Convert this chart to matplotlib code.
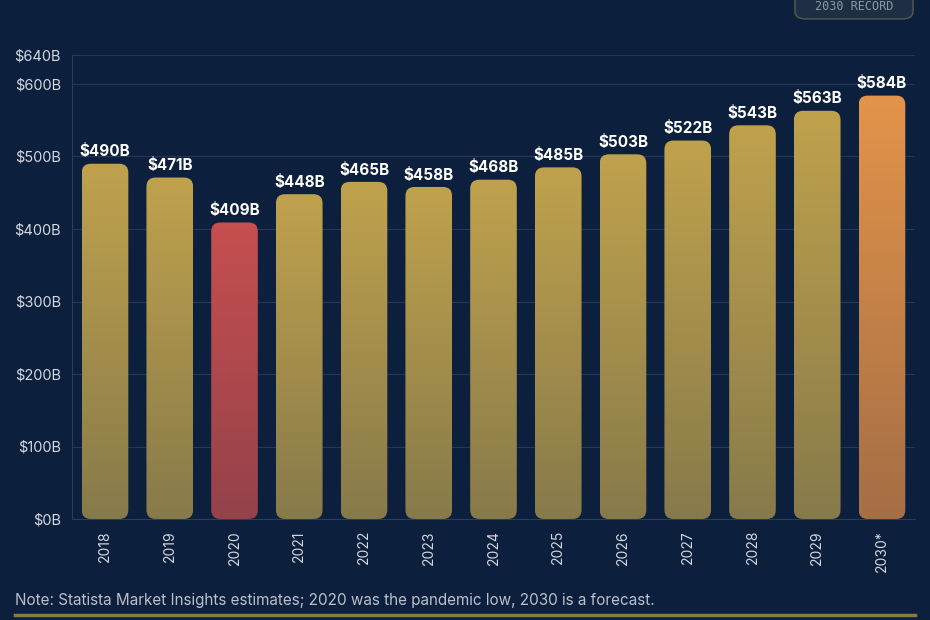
import matplotlib
matplotlib.use("Agg")
import matplotlib.pyplot as plt
import numpy as np
from matplotlib.patches import FancyBboxPatch
from matplotlib.colors import LinearSegmentedColormap

# data
years = ["2018", "2019", "2020", "2021", "2022", "2023", "2024",
         "2025", "2026", "2027", "2028", "2029", "2030*"]
values = [490, 471, 409, 448, 465, 458, 468, 485, 503, 522, 543, 563, 584]
kinds = ["n", "n", "low", "n", "n", "n", "n", "n", "n", "n", "n", "n", "fc"]
yticks = [0, 100, 200, 300, 400, 500, 600, 640]

BG = "#0c1f3d"
colors = {
    "n": ("#c0a24d", "#877a4a"),
    "low": ("#c64f4f", "#95424a"),
    "fc": ("#e3944a", "#a56e45"),
}

plt.rcParams["font.family"] = ["Inter", "DejaVu Sans"]

fig = plt.figure(figsize=(9.3, 6.2), dpi=100, facecolor=BG)
ax = fig.add_axes([72 / 930, 1 - 519 / 620, 843 / 930, 464 / 620], facecolor=BG)

xmin, xmax = -0.51, 12.51
ymax = 640
ax.set_xlim(xmin, xmax)
ax.set_ylim(0, ymax)

for yt in yticks[1:]:
    ax.axhline(yt, color="#25385a", lw=0.8, zorder=0)

# px per data unit, to get round corners right
px_x = 843 / (xmax - xmin)
px_y = 464 / ymax
aspect = px_x / px_y

w = 0.72
r = 9 / px_x
for i, (v, k) in enumerate(zip(values, kinds)):
    top, bot = colors[k]
    cmap = LinearSegmentedColormap.from_list("g" + k, [bot, top])
    patch = FancyBboxPatch((i - w / 2, 0), w, v,
                           boxstyle="round,pad=0,rounding_size=%f" % r,
                           mutation_aspect=aspect,
                           fc="none", ec="none", zorder=2)
    ax.add_patch(patch)
    grad = np.linspace(0, 1, 256).reshape(-1, 1)
    im = ax.imshow(grad, cmap=cmap, origin="lower", aspect="auto",
                   extent=(i - w / 2, i + w / 2, 0, v), zorder=2)
    im.set_clip_path(patch)
    ax.text(i, v + 6, "$%dB" % v, ha="center", va="bottom", color="white",
            fontsize=11, fontweight="bold", zorder=3)

ax.set_xlim(xmin, xmax)
ax.set_ylim(0, ymax)
ax.set_xticks(range(len(years)))
ax.set_xticklabels(years, rotation=90, color="#d3d8e0", fontsize=10)
ax.set_yticks(yticks)
ax.set_yticklabels(["$%dB" % t for t in yticks], color="#d3d8e0", fontsize=10.5)
ax.tick_params(length=0, pad=8)
for s in ["top", "right"]:
    ax.spines[s].set_visible(False)
for s in ["left", "bottom"]:
    ax.spines[s].set_color("#2b3d5c")
    ax.spines[s].set_linewidth(0.8)

fig.text(15 / 930, 1 - 600 / 620, "Note: Statista Market Insights estimates; 2020 was the pandemic low, 2030 is a forecast.",
         color="#b9c0cc", fontsize=11, va="center", ha="left")
fig.add_artist(plt.Line2D([15 / 930, 915 / 930], [1 - 615 / 620] * 2, color="#8a7a48", lw=2.5))

badge = FancyBboxPatch((795 / 930, 1 - 19 / 620), 118 / 930, 40 / 620,
                       boxstyle="round,pad=0,rounding_size=0.012",
                       transform=fig.transFigure, fc="#1e2f45", ec="#5b5a45", lw=1)
fig.add_artist(badge)
fig.text(854 / 930, 1 - 6 / 620, "2030 RECORD", color="#8d96a3", fontsize=8.5,
         family="DejaVu Sans Mono", ha="center", va="center")

fig.savefig("out.png", dpi=100, facecolor=BG)
